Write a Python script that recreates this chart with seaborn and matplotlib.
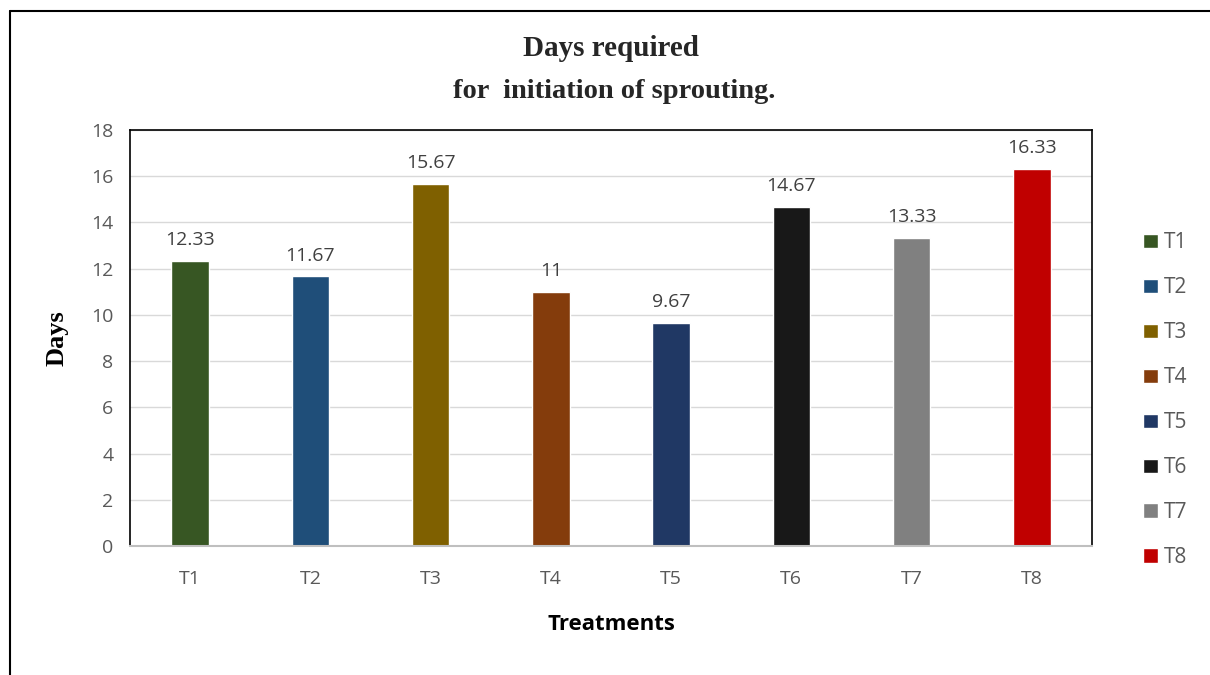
import pandas as pd
import seaborn as sns
from matplotlib import pyplot as plt
from matplotlib.lines import Line2D
from matplotlib.patches import Patch

treatments = ["T1", "T2", "T3", "T4", "T5", "T6", "T7", "T8"]
days = [12.33, 11.67, 15.67, 11, 9.67, 14.67, 13.33, 16.33]
labels = ["12.33", "11.67", "15.67", "11", "9.67", "14.67", "13.33", "16.33"]
colors = ["#375623", "#1F4E79", "#7F6000", "#843C0C", "#203864", "#181818", "#808080", "#C00000"]

df = pd.DataFrame({"Treatment": treatments, "Days": days})

sns.set_style("white")
plt.rcParams["font.family"] = ["Open Sans", "DejaVu Sans"]

fig = plt.figure(figsize=(12.1, 6.75), dpi=100)
ax = fig.add_axes([130 / 1210, 1 - 546 / 675, (1092 - 130) / 1210, (546 - 130) / 675])

sns.barplot(data=df, x="Treatment", y="Days", hue="Treatment", palette=colors,
            width=0.31, legend=False, ax=ax, saturation=1)

ax.set_ylim(0, 18)
ax.set_yticks(range(0, 19, 2))
ax.set_xlim(-0.5, 7.5)
ax.grid(axis="y", color="#d9d9d9", linewidth=1)
ax.set_axisbelow(True)
for side in ["left", "top", "right"]:
    ax.spines[side].set_color("black")
    ax.spines[side].set_linewidth(1.2)
ax.spines["bottom"].set_color("#bfbfbf")
ax.spines["bottom"].set_linewidth(1.5)
ax.tick_params(axis="both", colors="#595959", labelsize=14, length=0)
ax.tick_params(axis="x", pad=17)
ax.tick_params(axis="y", pad=12)

for i, (v, t) in enumerate(zip(days, labels)):
    ax.text(i, v + 0.5, t, ha="center", va="bottom", fontsize=14, color="#404040")

ax.set_xlabel("Treatments", fontsize=16, fontweight="bold", color="black", labelpad=19)
ax.set_ylabel("Days", fontsize=19, fontweight="bold", color="black",
              family="Liberation Serif", labelpad=16)

fig.text(0.505, 1 - 49 / 675, "Days required", ha="center", va="center",
         fontsize=21, fontweight="bold", family="Liberation Serif")
fig.text(0.508, 1 - 92 / 675, "for  initiation of sprouting.", ha="center", va="center",
         fontsize=20.5, fontweight="bold", family="Liberation Serif")

handles = [Patch(facecolor=c, label=t) for c, t in zip(colors, treatments)]
leg = fig.legend(handles=handles, loc="upper left", bbox_to_anchor=(1135 / 1210, 1 - 224 / 675),
                 frameon=False, fontsize=15, handlelength=0.7, handleheight=0.7,
                 handletextpad=0.3, labelspacing=1.15, borderaxespad=0)
for txt in leg.get_texts():
    txt.set_color("#595959")

# outer frame (left and top edges)
fig.add_artist(Line2D([10 / 1210, 10 / 1210], [0, 1 - 11 / 675], color="black", linewidth=1.5,
                      transform=fig.transFigure))
fig.add_artist(Line2D([10 / 1210, 1], [1 - 11 / 675, 1 - 11 / 675], color="black", linewidth=1.5,
                      transform=fig.transFigure))

fig.savefig("out.png", dpi=100)
